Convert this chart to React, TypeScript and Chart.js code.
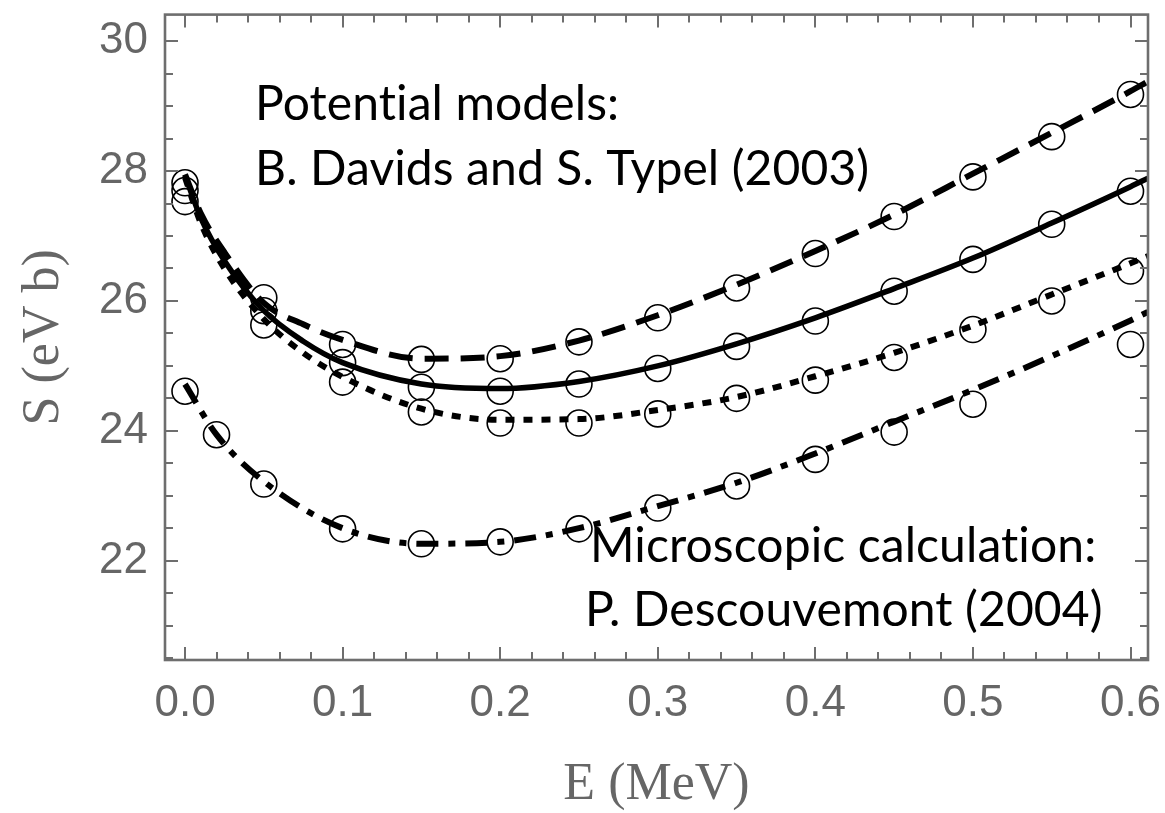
import React, { useEffect, useRef } from "react";
import { Chart, registerables } from "chart.js";

Chart.register(...registerables);

// ---- curve data (model calculations) ----
const CURVE_E = [0, 0.01, 0.025, 0.05, 0.075, 0.1, 0.15, 0.2, 0.25, 0.3, 0.35, 0.4, 0.45, 0.5, 0.55, 0.6, 0.611];
const CURVE_DASHED = [27.95, 27.35, 26.75, 25.97, 25.64, 25.40, 25.11, 25.15, 25.39, 25.78, 26.25, 26.77, 27.33, 27.96, 28.59, 29.23, 29.38];
const CURVE_SOLID = [27.93, 27.28, 26.62, 25.85, 25.38, 25.05, 24.72, 24.65, 24.76, 25.00, 25.34, 25.74, 26.19, 26.66, 27.20, 27.76, 27.89];
const CURVE_DOTTED = [27.90, 27.20, 26.50, 25.72, 25.20, 24.83, 24.34, 24.17, 24.18, 24.32, 24.52, 24.84, 25.20, 25.62, 26.10, 26.58, 26.69];

const LOWER_E = [0, 0.02, 0.05, 0.1, 0.15, 0.2, 0.25, 0.3, 0.35, 0.4, 0.45, 0.5, 0.55, 0.6, 0.611];
const CURVE_DASHDOT = [24.72, 23.94, 23.22, 22.50, 22.26, 22.29, 22.50, 22.84, 23.20, 23.65, 24.14, 24.63, 25.15, 25.70, 25.83];

// ---- circle markers ----
const PT_E = [0, 0.05, 0.1, 0.15, 0.2, 0.25, 0.3, 0.35, 0.4, 0.45, 0.5, 0.55, 0.6];
const PT_DASHED = [27.82, 26.05, 25.33, 25.10, 25.11, 25.37, 25.74, 26.20, 26.73, 27.30, 27.91, 28.53, 29.18];
const PT_SOLID = [27.70, 25.85, 25.05, 24.67, 24.61, 24.72, 24.96, 25.30, 25.69, 26.15, 26.64, 27.18, 27.69];
const PT_DOTTED = [27.53, 25.63, 24.75, 24.29, 24.12, 24.12, 24.26, 24.50, 24.78, 25.13, 25.56, 26.00, 26.46];

const PT_LOWER_E = [0, 0.02, 0.05, 0.1, 0.15, 0.2, 0.25, 0.3, 0.35, 0.4, 0.45, 0.5, 0.6];
const PT_LOWER = [24.61, 23.94, 23.18, 22.49, 22.26, 22.29, 22.49, 22.81, 23.15, 23.56, 23.98, 24.41, 25.33];

// ---- axes ----
const X_TICKS = [0, 0.1, 0.2, 0.3, 0.4, 0.5, 0.6];
const Y_TICKS = [22, 24, 26, 28, 30];
const X_MINOR_STEP = 0.02;
const Y_MINOR_STEP = 0.5;
const Y_MINOR_START = 20.5;
const X_MIN = -0.0127;
const X_MAX = 0.6111;
const Y_MIN = 20.47;
const Y_MAX = 30.41;

const ANNOTATIONS = [
  { text: "Potential models:", x: 255, y: 120 },
  { text: "B. Davids and S. Typel (2003)", x: 255, y: 185 },
  { text: "Microscopic calculation:", x: 590, y: 562 },
  { text: "P. Descouvemont (2004)", x: 585, y: 626 },
];

const FRAME_COLOR = "#6e6e6e";
const LABEL_COLOR = "#666666";

const zip = (xs: number[], ys: number[]) => xs.map((x, i) => ({ x, y: ys[i] }));

const framePlugin = {
  id: "frameTicks",
  afterDraw(chart: any) {
    const { ctx, chartArea, scales } = chart;
    const xs = scales.x;
    const ys = scales.y;
    const { left, right, top, bottom } = chartArea;
    ctx.save();
    ctx.strokeStyle = FRAME_COLOR;
    ctx.lineWidth = 2;
    const nx = Math.round((X_TICKS[X_TICKS.length - 1] - X_TICKS[0]) / X_MINOR_STEP);
    for (let i = 0; i <= nx; i++) {
      const v = X_TICKS[0] + i * X_MINOR_STEP;
      const major = i % 5 === 0;
      const len = major ? 13 : 8;
      const px = Math.round(xs.getPixelForValue(v));
      ctx.beginPath();
      ctx.moveTo(px, bottom);
      ctx.lineTo(px, bottom - len);
      ctx.moveTo(px, top);
      ctx.lineTo(px, top + len);
      ctx.stroke();
    }
    const ny = Math.round((Y_TICKS[Y_TICKS.length - 1] - Y_MINOR_START) / Y_MINOR_STEP);
    for (let i = 0; i <= ny; i++) {
      const v = Y_MINOR_START + i * Y_MINOR_STEP;
      const major = Y_TICKS.some((t) => Math.abs(t - v) < 1e-6);
      const len = major ? 13 : 8;
      const py = Math.round(ys.getPixelForValue(v));
      ctx.beginPath();
      ctx.moveTo(left, py);
      ctx.lineTo(left + len, py);
      ctx.moveTo(right, py);
      ctx.lineTo(right - len, py);
      ctx.stroke();
    }
    ctx.lineWidth = 2.6;
    ctx.strokeRect(left, top, right - left, bottom - top);

    ctx.fillStyle = "#000000";
    ctx.font = "48px Lato, 'Open Sans', sans-serif";
    (ctx as any).letterSpacing = "0.1px";
    ctx.textAlign = "left";
    ctx.textBaseline = "alphabetic";
    for (const a of ANNOTATIONS) {
      ctx.fillText(a.text, a.x, a.y);
    }
    ctx.restore();
  },
};

const zeroPad = (s: any) => {
  s.paddingTop = 0;
  s.paddingBottom = 0;
  s.paddingLeft = 0;
  s.paddingRight = 0;
};

export default function App() {
  const canvasRef = useRef<HTMLCanvasElement | null>(null);

  useEffect(() => {
    const canvas = canvasRef.current;
    if (!canvas) return;

    const lineDs = (data: any[], dash: number[], width: number) => ({
      type: "line" as const,
      data,
      borderColor: "#000000",
      backgroundColor: "#000000",
      borderWidth: width,
      borderDash: dash,
      borderCapStyle: "butt" as const,
      pointRadius: 0,
      showLine: true,
      fill: false,
      cubicInterpolationMode: "monotone" as const,
      order: 2,
    });
    const ptDs = (data: any[]) => ({
      type: "scatter" as const,
      data,
      showLine: false,
      pointRadius: 13,
      pointHoverRadius: 13,
      pointBorderWidth: 1.6,
      pointBorderColor: "#000000",
      pointBackgroundColor: "rgba(0,0,0,0)",
      order: 1,
    });

    const chart = new Chart(canvas, {
      type: "scatter",
      data: {
        datasets: [
          lineDs(zip(CURVE_E, CURVE_DASHED), [24, 12], 6),
          lineDs(zip(CURVE_E, CURVE_SOLID), [], 5.5),
          lineDs(zip(CURVE_E, CURVE_DOTTED), [9, 9], 6),
          lineDs(zip(LOWER_E, CURVE_DASHDOT), [22, 10, 7, 10], 6),
          ptDs(zip(PT_E, PT_DASHED)),
          ptDs(zip(PT_E, PT_SOLID)),
          ptDs(zip(PT_E, PT_DOTTED)),
          ptDs(zip(PT_LOWER_E, PT_LOWER)),
        ] as any,
      },
      options: {
        animation: false,
        responsive: false,
        devicePixelRatio: 1,
        layout: { padding: { top: 9, right: 17, left: 0, bottom: 0 } },
        plugins: {
          legend: { display: false },
          tooltip: { enabled: false },
        },
        scales: {
          x: {
            type: "linear",
            position: "bottom",
            min: X_MIN,
            max: X_MAX,
            grid: { display: false, drawTicks: false },
            border: { display: false },
            afterBuildTicks: (s: any) => {
              s.ticks = X_TICKS.map((value) => ({ value }));
            },
            afterFit: (s: any) => {
              s.height = 153;
              zeroPad(s);
            },
            ticks: {
              autoSkip: false,
              maxRotation: 0,
              padding: 22,
              color: LABEL_COLOR,
              font: { family: "'Liberation Sans', Arial, sans-serif", size: 44, lineHeight: 1 },
              callback: (v: any) => Number(v).toFixed(1),
            },
            title: {
              display: true,
              text: "E (MeV)",
              color: LABEL_COLOR,
              font: { family: "'Liberation Serif', 'Times New Roman', serif", size: 52, lineHeight: 1 },
              padding: { top: 0, bottom: 2 },
            },
          },
          y: {
            type: "linear",
            position: "left",
            min: Y_MIN,
            max: Y_MAX,
            grid: { display: false, drawTicks: false },
            border: { display: false },
            afterBuildTicks: (s: any) => {
              s.ticks = Y_TICKS.map((value) => ({ value }));
            },
            afterFit: (s: any) => {
              s.width = 165;
              zeroPad(s);
            },
            ticks: {
              autoSkip: false,
              padding: 17,
              color: LABEL_COLOR,
              font: { family: "'Liberation Sans', Arial, sans-serif", size: 44, lineHeight: 1 },
              callback: (v: any) => String(Math.round(Number(v))),
            },
            title: {
              display: true,
              text: "S (eV b)",
              color: LABEL_COLOR,
              font: { family: "'Liberation Serif', 'Times New Roman', serif", size: 52, lineHeight: 1 },
              padding: { top: 18, bottom: 0 },
            },
          },
        },
      },
      plugins: [framePlugin],
    });

    return () => {
      chart.destroy();
    };
  }, []);

  return (
    <div style={{ position: "absolute", left: 0, top: 0, width: 1165, height: 813, background: "#ffffff" }}>
      <canvas ref={canvasRef} width={1165} height={813} style={{ display: "block", width: 1165, height: 813 }} />
    </div>
  );
}
